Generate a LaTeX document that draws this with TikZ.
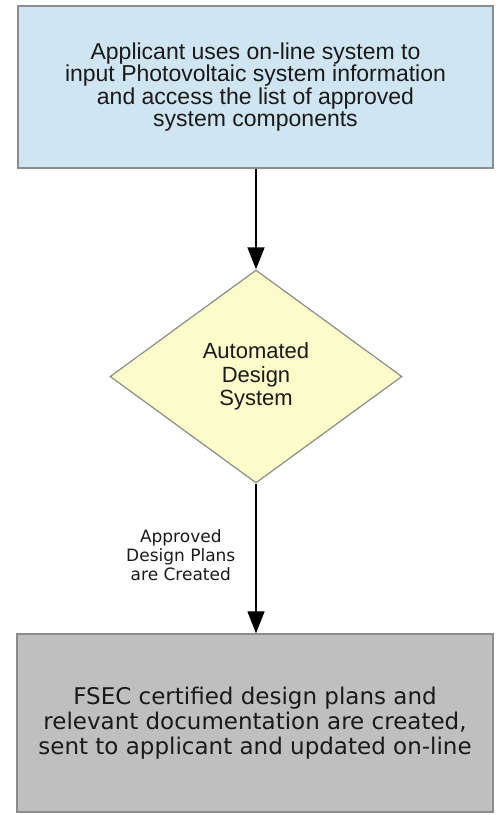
\documentclass[tikz,border=0pt]{standalone}
\usepackage{fontspec}
\setmainfont{Liberation Sans}
\newfontfamily\dejavu{DejaVu Sans}
\usetikzlibrary{shapes.geometric,arrows.meta}

\definecolor{inputfill}{HTML}{CFE5F2}
\definecolor{decisionfill}{HTML}{FCFCCA}
\definecolor{outputfill}{HTML}{BFBFBF}
\definecolor{edgegray}{HTML}{8C8C8C}
\definecolor{inktext}{HTML}{1A1A1A}

\tikzset{
  procbox/.style={draw=edgegray, line width=1.4pt, rectangle, align=center,
    text=inktext, inner sep=0pt},
  decision/.style={draw=edgegray, line width=1.2pt, diamond, align=center,
    fill=decisionfill, text=inktext, inner sep=0pt,
    minimum width=292pt, minimum height=213pt},
  flow/.style={draw=black, line width=1.3pt,
    -{Triangle[width=17pt,length=22pt]}},
  flowlabel/.style={text=inktext, align=center, inner sep=0pt,
    font=\dejavu\fontsize{17}{19}\selectfont}
}

\begin{document}
\begin{tikzpicture}[x=1pt,y=-1pt]
  \useasboundingbox (0,0) rectangle (500,815);

  \node[procbox, fill=inputfill, minimum width=475pt, minimum height=162pt,
        font=\fontsize{23}{22.5}\selectfont]
    (input) at (255.5,87)
    {Applicant uses on-line system to\\
     input Photovoltaic system information\\
     and access the list of approved\\
     system components};

  \node[decision, font=\fontsize{22}{23.5}\selectfont]
    (design) at (256,376.5)
    {Automated\\Design\\System};

  \node[procbox, fill=outputfill, minimum width=476pt, minimum height=178pt,
        font=\dejavu\fontsize{23}{25}\selectfont]
    (plans) at (255,723)
    {FSEC certified design plans and\\
     relevant documentation are created,\\
     sent to applicant and updated on-line};

  \draw[flow] (input.south -| design.north) -- (design.north);
  \draw[flow] (design.south) --
    node[flowlabel, anchor=east, xshift=-20pt, yshift=3pt]
      {Approved\\Design Plans\\are Created}
    (design.south |- plans.north);
\end{tikzpicture}
\end{document}
